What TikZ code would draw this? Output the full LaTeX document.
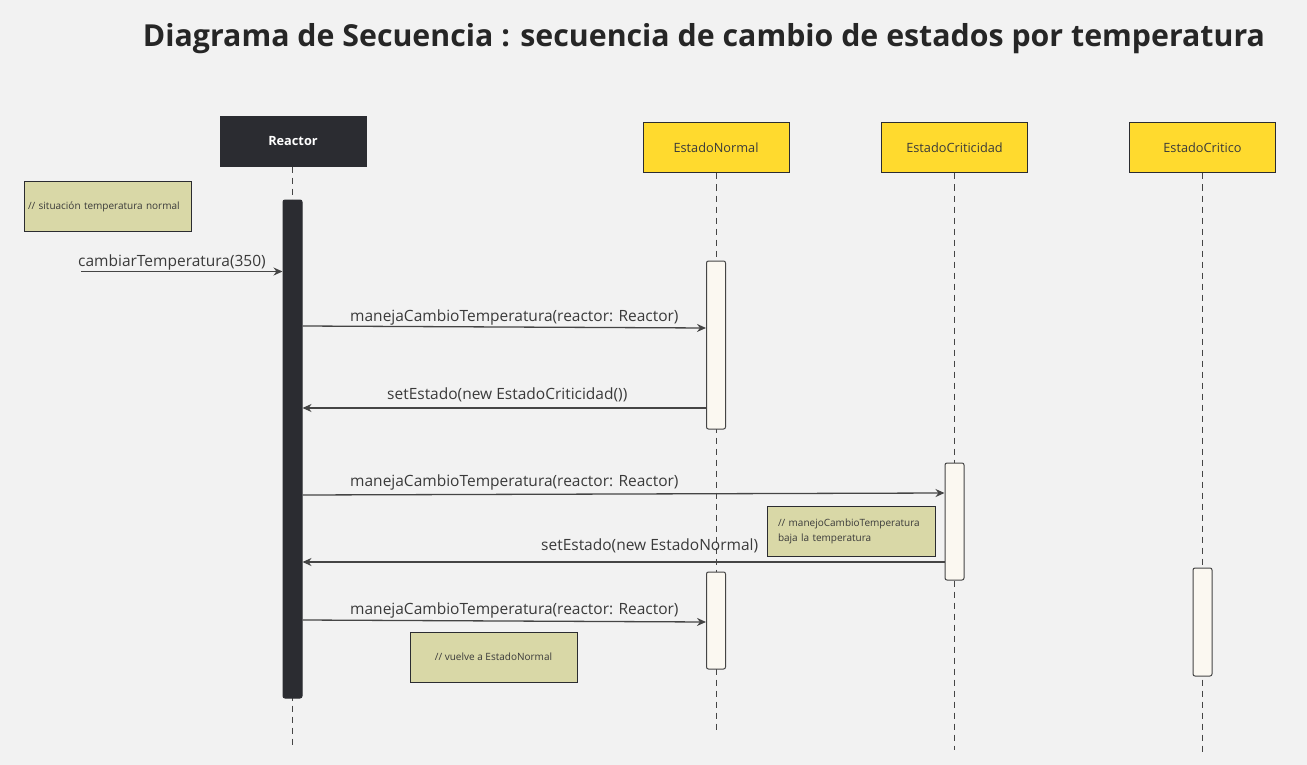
\documentclass[tikz,border=0pt]{standalone}
\usepackage{fontspec}
\setmainfont{Open Sans}
\usetikzlibrary{arrows.meta,calc}
\definecolor{bgc}{HTML}{F2F2F2}
\definecolor{linec}{HTML}{454545}
\definecolor{darkc}{HTML}{2B2C31}
\definecolor{yelc}{HTML}{FFDA2E}
\definecolor{notec}{HTML}{D9D8A7}
\definecolor{actc}{HTML}{FBF8F1}
\definecolor{txtc}{HTML}{3A3A3A}
\tikzset{
  hdr/.style={draw=darkc, line width=1pt, fill=yelc, minimum width=146pt, minimum height=50pt, inner sep=0pt, font=\fontsize{12.75}{14}\selectfont, text=txtc},
  hdrdark/.style={draw=darkc, fill=darkc, minimum width=146pt, minimum height=50pt, inner sep=0pt, font=\fontsize{12.75}{14}\selectfont\bfseries, text=white},
  lifeline/.style={draw=linec, line width=1pt, dash pattern=on 6pt off 5pt},
  actbar/.style={draw=linec, line width=1pt, fill=actc, rounded corners=2pt, minimum width=19pt, inner sep=0pt},
  actdark/.style={draw=darkc, line width=1pt, fill=darkc, rounded corners=2pt, minimum width=19pt, inner sep=0pt},
  notebox/.style={draw=darkc, line width=1pt, fill=notec, minimum width=167pt, minimum height=50pt, inner sep=0pt, font=\fontsize{10}{15}\selectfont, text=txtc},
  msg/.style={draw=linec, line width=1.3pt, -{Stealth[length=9pt,width=8pt]}},
  msglbl/.style={font=\fontsize{15.5}{17}\selectfont, text=txtc, inner sep=0pt, anchor=base west},
}
\begin{document}
\begin{tikzpicture}[x=1pt,y=-1pt]
\fill[bgc] (0,0) rectangle (1307,765);
\useasboundingbox (0,0) rectangle (1307,765);

\node[font=\fontsize{30.3}{34}\selectfont\bfseries, text=black!85, inner sep=0pt] (title) at (704,38.5) {Diagrama de Secuencia : secuencia de cambio de estados por temperatura};

% headers
\node[hdrdark] (reactor) at (293,141.5) {Reactor};
\node[hdr] (en) at (716,148) {EstadoNormal};
\node[hdr] (ec) at (954.5,148) {EstadoCriticidad};
\node[hdr] (ecr) at (1202.5,148) {EstadoCritico};

% lifeline ends
\coordinate (reactorEnd) at (292,745);
\coordinate (enEnd) at (716,733);
\coordinate (ecEnd) at (954,750);
\coordinate (ecrEnd) at (1202,755);

\draw[lifeline] (reactor.south -| reactorEnd) -- (reactorEnd);
\draw[lifeline] (en.south -| enEnd) -- (enEnd);
\draw[lifeline] (ec.south -| ecEnd) -- (ecEnd);
\draw[lifeline] (ecr.south -| ecrEnd) -- (ecrEnd);

% activation bars
\node[actdark, minimum height=498pt] (actR) at (292.5,449) {};
\node[actbar, minimum height=168pt] (actN1) at (716,345) {};
\node[actbar, minimum height=117pt] (actC) at (954.5,521.5) {};
\node[actbar, minimum height=97pt] (actN2) at (716,620.5) {};
\node[actbar, minimum height=108pt] (actCr) at (1202.5,622) {};

% notes
\node[notebox, text width=159pt, align=left] (note1) at (107.5,206.5) {// situación temperatura normal};
\node[notebox, text width=160pt, align=left, minimum width=168pt] (note2) at (851,531) {\hspace*{7pt}// manejoCambioTemperatura\\\hspace*{7pt}baja la temperatura};
\node[notebox] (note3) at (493.5,657) {// vuelve a EstadoNormal};

% message endpoints
\coordinate (start) at (81,271.5);
\coordinate (m0e) at (actR.west |- 0,271.5);
\coordinate (m1s) at (actR.east |- 0,326);
\coordinate (m1e) at (actN1.west |- 0,328);
\coordinate (m2s) at (actN1.west |- 0,408);
\coordinate (m2e) at (actR.east |- 0,408);
\coordinate (m3s) at (actR.east |- 0,495);
\coordinate (m3e) at (actC.west |- 0,493);
\coordinate (m4s) at (actC.west |- 0,562);
\coordinate (m4e) at (actR.east |- 0,562);
\coordinate (m5s) at (actR.east |- 0,620);
\coordinate (m5e) at (actN2.west |- 0,622);

\draw[msg] (start) -- (m0e);
\draw[msg] (m1s) -- (m1e);
\draw[msg] (m2s) -- (m2e);
\draw[msg] (m3s) -- (m3e);
\draw[msg] (m4s) -- (m4e);
\draw[msg] (m5s) -- (m5e);

% labels
\node[msglbl] (l0) at (78,266) {cambiarTemperatura(350)};
\node[msglbl] (l1) at (350,321) {manejaCambioTemperatura(reactor: Reactor)};
\node[msglbl] (l2) at (387,399) {setEstado(new EstadoCriticidad())};
\node[msglbl] (l3) at (350,486) {manejaCambioTemperatura(reactor: Reactor)};
\node[msglbl] (l4) at (541,550) {setEstado(new EstadoNormal)};
\node[msglbl] (l5) at (350,614) {manejaCambioTemperatura(reactor: Reactor)};
\end{tikzpicture}
\end{document}
